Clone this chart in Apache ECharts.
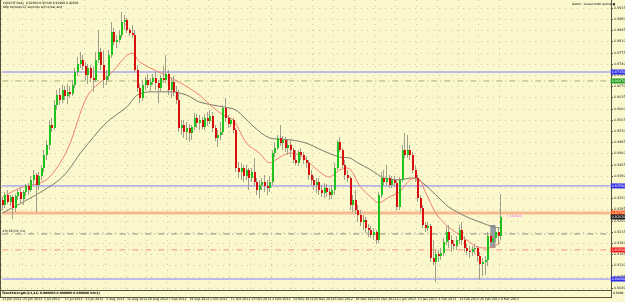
<!DOCTYPE html>
<html>
<head>
<meta charset="utf-8">
<title>CADCHF,Daily</title>
<script src="https://cdn.jsdelivr.net/npm/echarts@6/dist/echarts.min.js"></script>
<style>
  html, body { margin: 0; padding: 0; background: #fbf8cd; }
  #chart { width: 625px; height: 302px; }
</style>
</head>
<body>
<div id="chart"></div>
<script>
  // daily bars, 11 Jun 2012 .. 8 Mar 2013 (weekdays, no 25 Dec / 1 Jan)
  var firstDay = '2012-06-11';
  var lastDay = '2013-03-08';
  var holidays = ['2012-12-25', '2013-01-01'];
  var emptySlots = 42; // chart shift on the right

  // [open, close, low, high]
  var ohlc = [
    [0.9315,0.9299,0.9284,0.9324],[0.9299,0.9331,0.9290,0.9340],[0.9331,0.9309,0.9303,0.9346],[0.9309,0.9324,0.9296,0.9331],
    [0.9324,0.9290,0.9256,0.9331],[0.9290,0.9328,0.9278,0.9334],[0.9328,0.9340,0.9315,0.9349],[0.9340,0.9318,0.9306,0.9353],
    [0.9318,0.9340,0.9299,0.9346],[0.9340,0.9359,0.9328,0.9365],[0.9359,0.9346,0.9331,0.9368],[0.9346,0.9378,0.9340,0.9390],
    [0.9378,0.9393,0.9362,0.9409],[0.9393,0.9362,0.9278,0.9399],[0.9362,0.9390,0.9346,0.9403],[0.9390,0.9415,0.9378,0.9424],
    [0.9415,0.9456,0.9403,0.9471],[0.9456,0.9487,0.9440,0.9503],[0.9487,0.9549,0.9471,0.9565],[0.9549,0.9540,0.9528,0.9571],
    [0.9540,0.9612,0.9534,0.9628],[0.9612,0.9643,0.9596,0.9659],[0.9643,0.9628,0.9612,0.9665],[0.9628,0.9659,0.9618,0.9674],
    [0.9659,0.9640,0.9628,0.9671],[0.9640,0.9653,0.9615,0.9678],[0.9653,0.9646,0.9634,0.9671],[0.9646,0.9674,0.9640,0.9690],
    [0.9674,0.9715,0.9665,0.9728],[0.9715,0.9740,0.9703,0.9762],[0.9740,0.9753,0.9728,0.9778],[0.9753,0.9734,0.9721,0.9768],
    [0.9734,0.9706,0.9690,0.9746],[0.9706,0.9728,0.9678,0.9740],[0.9728,0.9696,0.9684,0.9737],[0.9696,0.9690,0.9653,0.9734],
    [0.9690,0.9753,0.9684,0.9778],[0.9753,0.9778,0.9743,0.9846],[0.9778,0.9737,0.9721,0.9790],[0.9737,0.9690,0.9665,0.9784],
    [0.9690,0.9703,0.9674,0.9721],[0.9703,0.9768,0.9690,0.9784],[0.9768,0.9840,0.9759,0.9871],[0.9840,0.9809,0.9799,0.9853],
    [0.9809,0.9815,0.9790,0.9831],[0.9815,0.9831,0.9806,0.9846],[0.9831,0.9871,0.9821,0.9903],[0.9871,0.9878,0.9846,0.9893],
    [0.9878,0.9846,0.9837,0.9884],[0.9846,0.9837,0.9828,0.9853],[0.9837,0.9831,0.9821,0.9862],[0.9831,0.9721,0.9715,0.9846],
    [0.9721,0.9665,0.9653,0.9737],[0.9665,0.9634,0.9618,0.9678],[0.9634,0.9674,0.9624,0.9690],[0.9674,0.9690,0.9659,0.9699],
    [0.9690,0.9674,0.9665,0.9709],[0.9674,0.9684,0.9653,0.9696],[0.9684,0.9696,0.9674,0.9709],[0.9696,0.9681,0.9659,0.9715],
    [0.9681,0.9665,0.9618,0.9690],[0.9665,0.9696,0.9653,0.9706],[0.9696,0.9690,0.9681,0.9734],[0.9690,0.9709,0.9681,0.9768],
    [0.9709,0.9659,0.9643,0.9721],[0.9659,0.9684,0.9634,0.9696],[0.9684,0.9653,0.9640,0.9703],[0.9653,0.9628,0.9615,0.9671],
    [0.9628,0.9540,0.9528,0.9659],[0.9540,0.9549,0.9518,0.9565],[0.9549,0.9528,0.9509,0.9565],[0.9528,0.9540,0.9503,0.9559],
    [0.9540,0.9524,0.9496,0.9553],[0.9524,0.9543,0.9503,0.9549],[0.9543,0.9571,0.9534,0.9587],[0.9571,0.9556,0.9540,0.9584],
    [0.9556,0.9565,0.9534,0.9581],[0.9565,0.9543,0.9537,0.9574],[0.9543,0.9571,0.9534,0.9584],[0.9571,0.9562,0.9546,0.9590],
    [0.9562,0.9578,0.9553,0.9596],[0.9578,0.9540,0.9528,0.9590],[0.9540,0.9509,0.9499,0.9549],[0.9509,0.9518,0.9481,0.9534],
    [0.9518,0.9528,0.9503,0.9559],[0.9528,0.9603,0.9518,0.9612],[0.9603,0.9571,0.9559,0.9634],[0.9571,0.9553,0.9540,0.9581],
    [0.9553,0.9565,0.9543,0.9571],[0.9565,0.9534,0.9524,0.9571],[0.9534,0.9415,0.9403,0.9540],[0.9415,0.9403,0.9384,0.9434],
    [0.9403,0.9415,0.9378,0.9431],[0.9415,0.9390,0.9371,0.9424],[0.9390,0.9409,0.9378,0.9424],[0.9409,0.9384,0.9346,0.9415],
    [0.9384,0.9403,0.9371,0.9415],[0.9403,0.9371,0.9359,0.9446],[0.9371,0.9346,0.9331,0.9384],[0.9346,0.9362,0.9321,0.9378],
    [0.9362,0.9371,0.9346,0.9384],[0.9371,0.9359,0.9340,0.9393],[0.9359,0.9353,0.9331,0.9378],[0.9353,0.9371,0.9340,0.9390],
    [0.9371,0.9462,0.9362,0.9471],[0.9462,0.9478,0.9449,0.9496],[0.9478,0.9509,0.9471,0.9518],[0.9509,0.9493,0.9484,0.9549],
    [0.9493,0.9503,0.9471,0.9515],[0.9503,0.9478,0.9465,0.9512],[0.9478,0.9487,0.9456,0.9503],[0.9487,0.9471,0.9449,0.9503],
    [0.9471,0.9440,0.9431,0.9478],[0.9440,0.9431,0.9424,0.9471],[0.9431,0.9465,0.9421,0.9471],[0.9465,0.9456,0.9440,0.9478],
    [0.9456,0.9440,0.9428,0.9465],[0.9440,0.9431,0.9415,0.9453],[0.9431,0.9393,0.9378,0.9440],[0.9393,0.9378,0.9362,0.9409],
    [0.9378,0.9362,0.9346,0.9390],[0.9362,0.9371,0.9337,0.9384],[0.9371,0.9346,0.9331,0.9384],[0.9346,0.9337,0.9324,0.9362],
    [0.9337,0.9353,0.9321,0.9368],[0.9353,0.9340,0.9324,0.9365],[0.9340,0.9331,0.9315,0.9353],[0.9331,0.9346,0.9318,0.9362],
    [0.9346,0.9415,0.9331,0.9431],[0.9415,0.9496,0.9409,0.9503],[0.9496,0.9471,0.9465,0.9512],[0.9471,0.9424,0.9415,0.9478],
    [0.9424,0.9393,0.9378,0.9440],[0.9393,0.9384,0.9371,0.9409],[0.9384,0.9299,0.9284,0.9390],[0.9299,0.9315,0.9278,0.9331],
    [0.9315,0.9284,0.9271,0.9346],[0.9284,0.9268,0.9246,0.9299],[0.9268,0.9246,0.9234,0.9284],[0.9246,0.9253,0.9221,0.9268],
    [0.9253,0.9228,0.9212,0.9262],[0.9228,0.9221,0.9199,0.9240],[0.9221,0.9206,0.9196,0.9234],[0.9206,0.9215,0.9190,0.9228],
    [0.9215,0.9190,0.9178,0.9221],[0.9190,0.9331,0.9181,0.9340],[0.9331,0.9384,0.9321,0.9403],[0.9384,0.9371,0.9359,0.9409],
    [0.9371,0.9384,0.9359,0.9424],[0.9384,0.9362,0.9353,0.9393],[0.9362,0.9378,0.9353,0.9390],[0.9378,0.9368,0.9356,0.9390],
    [0.9368,0.9293,0.9284,0.9378],[0.9293,0.9378,0.9284,0.9387],[0.9378,0.9471,0.9371,0.9487],[0.9471,0.9456,0.9446,0.9524],
    [0.9456,0.9471,0.9446,0.9518],[0.9471,0.9456,0.9440,0.9487],[0.9456,0.9409,0.9399,0.9465],[0.9409,0.9384,0.9371,0.9424],
    [0.9384,0.9321,0.9309,0.9393],[0.9321,0.9290,0.9278,0.9331],[0.9290,0.9237,0.9228,0.9299],[0.9237,0.9228,0.9215,0.9246],
    [0.9228,0.9234,0.9218,0.9246],[0.9234,0.9134,0.9121,0.9240],[0.9134,0.9121,0.9112,0.9190],[0.9121,0.9146,0.9059,0.9159],
    [0.9146,0.9140,0.9121,0.9159],[0.9140,0.9149,0.9128,0.9165],[0.9149,0.9184,0.9140,0.9196],[0.9184,0.9215,0.9174,0.9234],
    [0.9215,0.9190,0.9165,0.9237],[0.9190,0.9178,0.9153,0.9206],[0.9178,0.9171,0.9159,0.9190],[0.9171,0.9190,0.9159,0.9203],
    [0.9190,0.9221,0.9178,0.9237],[0.9221,0.9190,0.9174,0.9246],[0.9190,0.9165,0.9153,0.9203],[0.9165,0.9156,0.9143,0.9178],
    [0.9156,0.9153,0.9134,0.9171],[0.9153,0.9162,0.9140,0.9171],[0.9162,0.9165,0.9146,0.9178],[0.9165,0.9140,0.9121,0.9171],
    [0.9140,0.9115,0.9065,0.9153],[0.9115,0.9121,0.9078,0.9134],[0.9121,0.9128,0.9081,0.9140],[0.9128,0.9203,0.9109,0.9215],
    [0.9203,0.9184,0.9165,0.9212],[0.9184,0.9196,0.9168,0.9212],[0.9196,0.9215,0.9184,0.9228],[0.9215,0.9203,0.9174,0.9228],
    [0.9203,0.9262,0.9190,0.9334]
  ];

  // moving averages: [bar index, value]
  var maFast = [
    [0,0.9324],[7,0.9353],[17,0.9378],[25,0.9471],[33,0.9643],[42,0.9712],[50,0.9774],[53,0.9746],
    [61,0.9712],[68,0.9684],[76,0.9643],[80,0.9612],[85,0.9581],[89,0.9565],[94,0.9493],[99,0.9462],
    [103,0.9431],[107,0.9449],[111,0.9462],[116,0.9449],[120,0.9418],[126,0.9387],[130,0.9409],[133,0.9415],
    [138,0.9356],[142,0.9324],[145,0.9306],[149,0.9324],[153,0.9340],[157,0.9378],[160,0.9384],[163,0.9340],
    [167,0.9274],[171,0.9237],[175,0.9212],[179,0.9190],[183,0.9168],[187,0.9165],[189,0.9168],[192,0.9184]
  ];
  var maSlow = [
    [0,0.9274],[22,0.9378],[31,0.9471],[40,0.9556],[48,0.9606],[52,0.9643],[57,0.9653],[65,0.9653],
    [71,0.9643],[76,0.9621],[85,0.9606],[90,0.9596],[97,0.9543],[103,0.9509],[111,0.9503],[117,0.9493],
    [123,0.9471],[130,0.9449],[134,0.9446],[137,0.9431],[142,0.9409],[147,0.9384],[153,0.9378],[158,0.9384],
    [162,0.9368],[167,0.9331],[172,0.9293],[179,0.9262],[185,0.9243],[189,0.9231],[192,0.9228]
  ];

  // horizontal levels drawn on the chart
  var levelBlueHigh = 0.97150;
  var levelGreen = 0.96870;
  var levelBlueMid = 0.93590;
  var levelOrange = 0.92740;
  var levelBid = 0.92620;
  var levelGrey = 0.92090;
  var levelRed = 0.91590;
  var levelBlueLow = 0.90680;

  var priceTicks = [0.9915,0.9880,0.9845,0.9810,0.9775,0.9740,0.9705,0.9670,0.9635,0.9600,0.9565,0.9530,0.9495,
                    0.9460,0.9425,0.9390,0.9355,0.9320,0.9285,0.9250,0.9215,0.9180,0.9145,0.9110,0.9075,0.9040];

  var monthNames = ['Jan','Feb','Mar','Apr','May','Jun','Jul','Aug','Sep','Oct','Nov','Dec'];
  var categories = [];
  (function () {
    var d = new Date(firstDay + 'T12:00:00Z');
    var end = new Date(lastDay + 'T12:00:00Z');
    while (d <= end) {
      var iso = d.toISOString().slice(0, 10);
      var wd = d.getUTCDay();
      if (wd !== 0 && wd !== 6 && holidays.indexOf(iso) < 0) {
        categories.push(d.getUTCDate() + ' ' + monthNames[d.getUTCMonth()] + ' ' + d.getUTCFullYear());
      }
      d.setUTCDate(d.getUTCDate() + 1);
    }
    for (var k = 0; k < emptySlots; k++) categories.push('#' + k);
  })();
  var barCount = ohlc.length;
  var lastSlot = categories.length - 1;

  var candleData = ohlc.map(function (r, i) { return [i, r[0], r[1], r[2], r[3]]; });

  function renderCandle(params, api) {
    var i = api.value(0);
    var o = api.value(1), c = api.value(2), lo = api.value(3), hi = api.value(4);
    var pO = api.coord([i, o]);
    var pC = api.coord([i, c]);
    var pL = api.coord([i, lo]);
    var pH = api.coord([i, hi]);
    var x = Math.floor(pO[0]);
    var top = Math.round(Math.min(pO[1], pC[1]));
    var h = Math.max(1, Math.round(Math.abs(pO[1] - pC[1])));
    return {
      type: 'group',
      children: [
        { type: 'line', shape: { x1: x + 0.5, y1: Math.round(pH[1]), x2: x + 0.5, y2: Math.round(pL[1]) },
          style: { stroke: '#a19f8c', lineWidth: 1 } },
        { type: 'rect', shape: { x: x, y: top, width: 2, height: h },
          style: { fill: c >= o ? '#1fc21f' : '#d80f0f' } }
      ]
    };
  }

  function showDate(index) { return index % 8 === 0 && index < barCount; }

  // one horizontal level as its own line series, with the MT4 price box at the right end
  function levelSeries(value, color, type, width, boxColor, z) {
    return {
      type: 'line', silent: true, showSymbol: false, z: z || 1,
      data: [[0, value], [lastSlot, value]],
      lineStyle: { color: color || '#000', type: type, width: width, opacity: color ? 1 : 0 },
      endLabel: boxColor ? {
        show: true, distance: 1, formatter: value.toFixed(5),
        backgroundColor: boxColor, color: '#fff', fontSize: 3.3, padding: [1, 2, 1, 1],
        fontFamily: 'DejaVu Sans'
      } : { show: false }
    };
  }

  var greySeries = levelSeries(levelGrey, '#8a8a80', [6, 3, 1, 3], 1, null);
  greySeries.showSymbol = true;
  greySeries.symbolSize = 0;
  greySeries.data = [
    { value: [0, levelGrey], label: { show: true, position: 'top', align: 'left', distance: 1,
      formatter: '#HLBB(20) low', color: '#333', fontSize: 3, fontFamily: 'DejaVu Sans' } },
    [lastSlot, levelGrey]
  ];

  var myChart = echarts.init(document.getElementById('chart'));
  var option = {
    animation: false,
    backgroundColor: '#fbf8cd',
    grid: { left: 1, right: 14, top: 0, bottom: 12, outerBoundsMode: 'none', containLabel: false },
    xAxis: {
      type: 'category',
      data: categories,
      boundaryGap: true,
      axisLine: { lineStyle: { color: '#55553f', width: 1 } },
      axisTick: { show: false },
      axisLabel: {
        interval: showDate, align: 'left', margin: 8, fontSize: 3.2, hideOverlap: false,
        color: '#222', fontFamily: 'DejaVu Sans'
      },
      splitLine: { show: true, interval: showDate, lineStyle: { color: '#cfcaa3', type: [1, 5], width: 1 } }
    },
    yAxis: {
      type: 'value',
      position: 'right',
      min: 0.903375,
      max: 0.9940,
      scale: true,
      axisLine: { show: true, lineStyle: { color: '#55553f', width: 1 } },
      axisTick: { show: true, length: 2, customValues: priceTicks, lineStyle: { color: '#55553f' } },
      axisLabel: {
        customValues: priceTicks, margin: 3, fontSize: 3.3, color: '#222', fontFamily: 'DejaVu Sans',
        formatter: function (v) { return v.toFixed(5); }
      },
      splitLine: { show: true, lineStyle: { color: '#cfcaa3', type: [1, 5], width: 1 } }
    },
    series: [
      levelSeries(levelBlueHigh, '#8080ff', 'solid', 1, '#2f2fe8'),
      levelSeries(levelGreen, '#a0b070', [6, 3, 1, 3], 1, '#1fa01f'),
      levelSeries(levelBlueMid, '#8080ff', 'solid', 1, '#2f2fe8'),
      levelSeries(levelOrange, 'rgba(245,170,130,0.8)', 'solid', 3, '#ff4a10'),
      levelSeries(levelBid, null, 'solid', 0, '#202020', 4),
      greySeries,
      levelSeries(levelRed, '#f4907a', [6, 3, 1, 3], 1, '#f01818'),
      levelSeries(levelBlueLow, '#8080ff', 'solid', 1, '#2f2fe8'),
      {
        name: 'MA slow', type: 'line', data: maSlow, smooth: 0.3, showSymbol: false, silent: true,
        lineStyle: { color: '#7c7a6a', width: 1 }, z: 2
      },
      {
        name: 'MA fast', type: 'line', data: maFast, smooth: 0.3, showSymbol: false, silent: true,
        lineStyle: { color: '#f08070', width: 1 }, z: 2
      },
      {
        name: 'CADCHF', type: 'custom', renderItem: renderCandle, data: candleData, clip: true,
        encode: { x: 0, y: [1, 2, 3, 4] }, z: 3,
        markArea: {
          silent: true,
          itemStyle: { color: 'rgba(110,125,150,0.75)' },
          data: [[{ xAxis: 188, yAxis: 0.9237 }, { xAxis: 190, yAxis: 0.9165 }]]
        }
      }
    ],
    graphic: [
      { type: 'text', left: 3, top: 2, style: { text: 'CADCHF,Daily  0.92030 0.93340 0.91900 0.92620', fontSize: 3, fill: '#000', fontFamily: 'DejaVu Sans' } },
      { type: 'text', left: 3, top: 6, style: { text: '868 minutes 47 seconds left to bar end', fontSize: 3, fill: '#000', fontFamily: 'DejaVu Sans' } },
      { type: 'text', left: 572, top: 3, style: { text: 'Alarm : visual order active \u25a3', fontSize: 3, fill: '#000', fontFamily: 'DejaVu Sans' } },
      { type: 'text', left: 506, top: 215, style: { text: '\u2191 0.92620', fontSize: 3, fill: '#ff55ff', fontFamily: 'DejaVu Sans' } },
      { type: 'line', shape: { x1: 0, y1: 297.5, x2: 611, y2: 297.5 }, style: { stroke: '#55553f', lineWidth: 1 } },
      { type: 'line', shape: { x1: 611.5, y1: 290, x2: 611.5, y2: 298 }, style: { stroke: '#55553f', lineWidth: 1 } },
      { type: 'line', shape: { x1: 0.5, y1: 0, x2: 0.5, y2: 298 }, style: { stroke: '#55553f', lineWidth: 1 } },
      { type: 'text', left: 2, top: 292, style: { text: 'TrendStrength(14,21) 0.000000 0.000000 0.000000 Dir(1)', fontSize: 3, fill: '#000', fontWeight: 'bold', fontFamily: 'DejaVu Sans' } },
      { type: 'text', left: 613, top: 292, style: { text: '0.0000', fontSize: 3, fill: '#000', fontFamily: 'DejaVu Sans' } }
    ]
  };
  myChart.setOption(option, true);
</script>
</body>
</html>
